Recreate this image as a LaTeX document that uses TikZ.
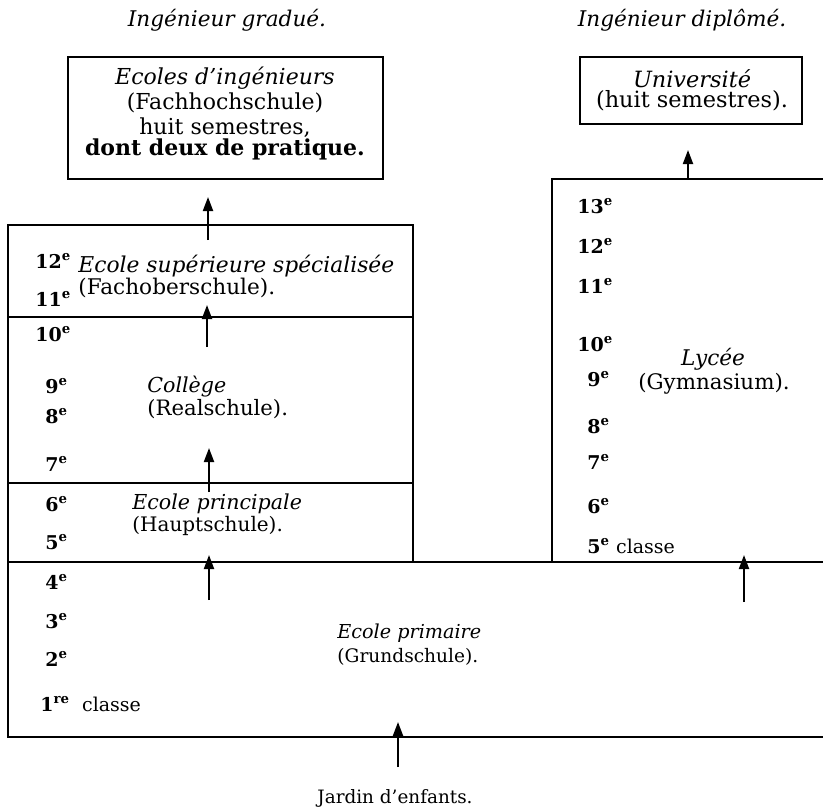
\documentclass[tikz,border=0pt]{standalone}
\usepackage{fontspec}
\setmainfont{DejaVu Serif}
\usetikzlibrary{arrows.meta}
\begin{document}
\begin{tikzpicture}[x=0.5pt,y=-0.5pt,
  txt/.style={inner sep=0pt, font=\fontsize{10.3}{12}\selectfont},
  itx/.style={inner sep=0pt, font=\fontsize{10.3}{12}\selectfont\itshape},
  num/.style={inner sep=0pt, anchor=base west, font=\fontsize{9.5}{11}\selectfont\bfseries},
  frame/.style={draw, line width=1pt},
  up/.style={line width=1pt, -{Triangle[length=7pt,width=5pt]}},
  ]
\useasboundingbox (0,0) rectangle (823,811);

% titles
\node[itx, anchor=base, font=\fontsize{10.8}{12}\selectfont\itshape] (tg) at (227,26) {Ingénieur gradué.};
\node[itx, anchor=base, font=\fontsize{10.8}{12}\selectfont\itshape] (td) at (682,26) {Ingénieur diplômé.};

% top boxes
\node[draw, line width=1.4pt, minimum width=157.5pt, minimum height=61pt, inner sep=0pt] (ei) at (225.5,118) {};
\node[txt, align=center, font=\fontsize{11}{12.5}\selectfont] (eit) at (225,113)
  {\textit{Ecoles d'ingénieurs}\\ (Fachhochschule)\\ huit semestres,\\[-2pt] \textbf{dont deux de pratique.}};
\node[frame, minimum width=111pt, minimum height=33.5pt, inner sep=0pt] (uni) at (691,90.5) {};
\node[txt, align=center, font=\fontsize{11.2}{10}\selectfont] (unit) at (692,90)
  {\textit{Université}\\ (huit semestres).};

% left column
\draw[frame] (8,225) rectangle (413,562);
\draw[frame] (8,317) -- (413,317);
\draw[frame] (8,483) -- (413,483);
% right column
\draw[frame] (823,179) -- (552,179) -- (552,562);
% primary school
\draw[frame] (823,562) -- (8,562) -- (8,737) -- (823,737);

% labels
\node[itx, anchor=base west, font=\fontsize{10.9}{12}\selectfont\itshape] (ess1) at (78,272) {Ecole supérieure spécialisée};
\node[txt, anchor=base west, font=\fontsize{10.8}{12}\selectfont] (ess2) at (78,294) {(Fachoberschule).};
\node[itx, anchor=base west] (col1) at (147,392) {Collège};
\node[txt, anchor=base west, font=\fontsize{10.6}{12}\selectfont] (col2) at (147,415) {(Realschule).};
\node[itx, anchor=base west] (ep1) at (132,509) {Ecole principale};
\node[txt, anchor=base west, font=\fontsize{10}{12}\selectfont] (ep2) at (132,531) {(Hauptschule).};
\node[itx, anchor=base west, font=\fontsize{9.6}{12}\selectfont\itshape] (pr1) at (337,638) {Ecole primaire};
\node[txt, anchor=base west, font=\fontsize{9.3}{12}\selectfont] (pr2) at (337,662) {(Grundschule).};
\node[itx, anchor=base, font=\fontsize{10.8}{12}\selectfont\itshape] (ly1) at (713,365) {Lycée};
\node[txt, anchor=base, font=\fontsize{10.7}{12}\selectfont] (ly2) at (714,389) {(Gymnasium).};
\node[txt, anchor=base, font=\fontsize{9.2}{12}\selectfont] (jar) at (395,803) {Jardin d'enfants.};

% left numbers
\node[num] (l12) at (35,268) {12\textsuperscript{e}};
\node[num] (l11) at (35,306) {11\textsuperscript{e}};
\node[num] (l10) at (35,341) {10\textsuperscript{e}};
\node[num] (l9) at (45,393) {9\textsuperscript{e}};
\node[num] (l8) at (45,423) {8\textsuperscript{e}};
\node[num] (l7) at (45,471) {7\textsuperscript{e}};
\node[num] (l6) at (45,511) {6\textsuperscript{e}};
\node[num] (l5) at (45,549) {5\textsuperscript{e}};
\node[num] (l4) at (45,589) {4\textsuperscript{e}};
\node[num] (l3) at (45,628) {3\textsuperscript{e}};
\node[num] (l2) at (45,666) {2\textsuperscript{e}};
\node[num] (l1) at (40,711) {1\textsuperscript{re}\mdseries\ \ classe};

% right numbers
\node[num] (r13) at (577,213) {13\textsuperscript{e}};
\node[num] (r12) at (577,253) {12\textsuperscript{e}};
\node[num] (r11) at (577,293) {11\textsuperscript{e}};
\node[num] (r10) at (577,351) {10\textsuperscript{e}};
\node[num] (r9) at (587,386) {9\textsuperscript{e}};
\node[num] (r8) at (587,433) {8\textsuperscript{e}};
\node[num] (r7) at (587,469) {7\textsuperscript{e}};
\node[num] (r6) at (587,513) {6\textsuperscript{e}};
\node[num] (r5) at (587,553) {5\textsuperscript{e}\mdseries\ classe};

% arrow ends
\coordinate (a1s) at (208,240); \coordinate (a1e) at (208,197);
\coordinate (a2s) at (688,178); \coordinate (a2e) at (688,150);
\coordinate (a3s) at (207,347); \coordinate (a3e) at (207,305);
\coordinate (a4s) at (209,492); \coordinate (a4e) at (209,448);
\coordinate (a5s) at (209,600); \coordinate (a5e) at (209,555);
\coordinate (a6s) at (744,602); \coordinate (a6e) at (744,555);
\coordinate (a7s) at (398,767); \coordinate (a7e) at (398,722);
\draw[up] (a1s) -- (a1e);
\draw[up] (a2s) -- (a2e);
\draw[up] (a3s) -- (a3e);
\draw[up] (a4s) -- (a4e);
\draw[up] (a5s) -- (a5e);
\draw[up] (a6s) -- (a6e);
\draw[up] (a7s) -- (a7e);
\end{tikzpicture}
\end{document}
